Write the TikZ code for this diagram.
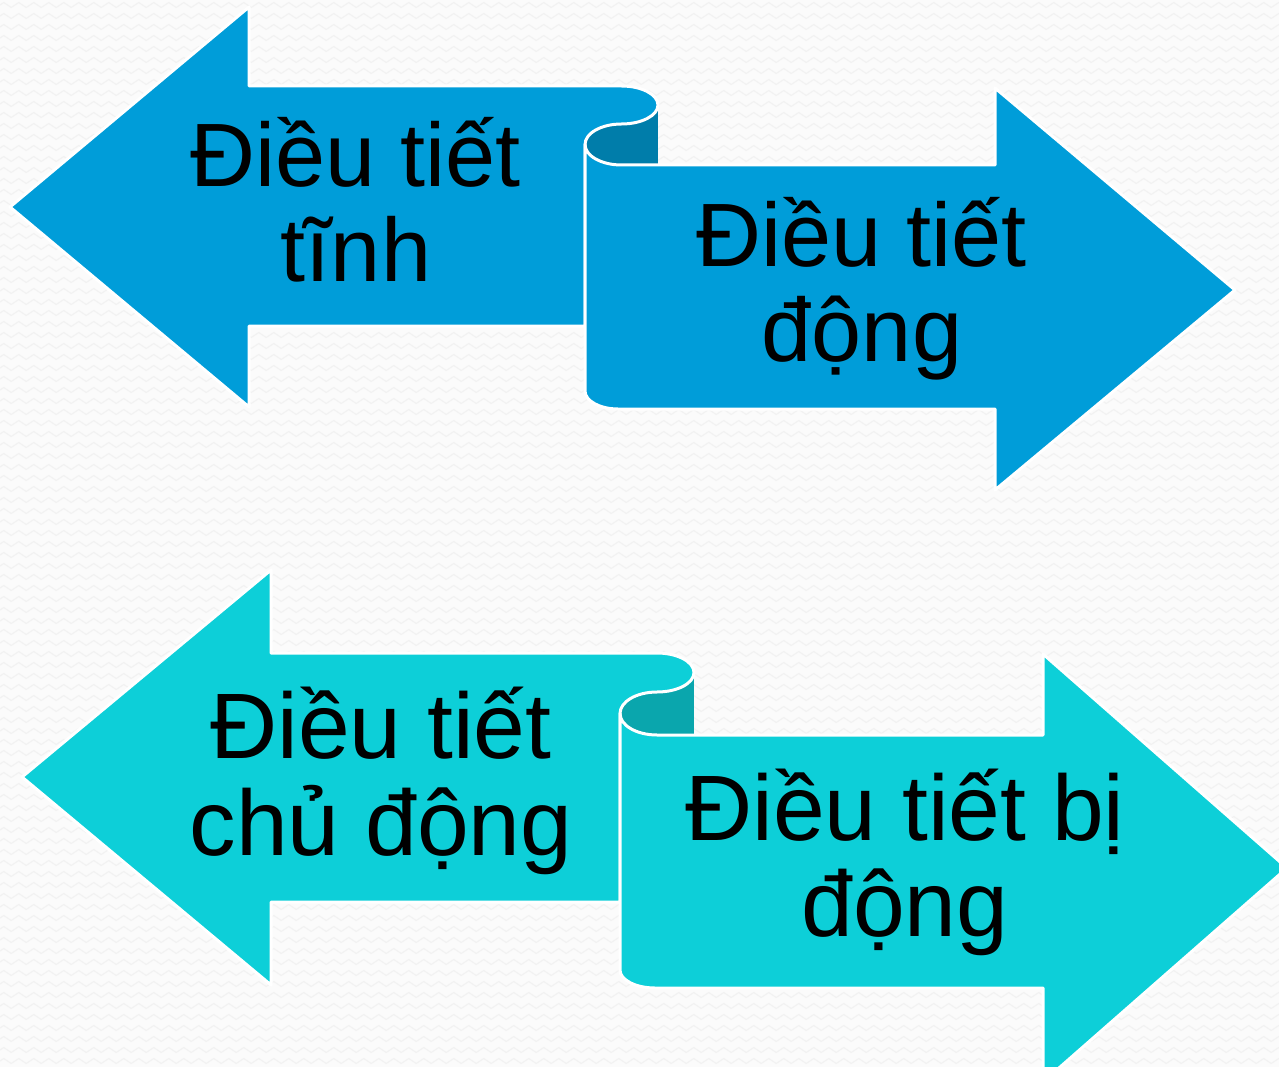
\documentclass[tikz,border=0pt]{standalone}
\usepackage{fontspec}
\setmainfont{Liberation Sans}
\usetikzlibrary{decorations.pathmorphing}
\definecolor{blueL}{RGB}{0,157,217}
\definecolor{blueD}{RGB}{0,125,170}
\definecolor{cyanL}{RGB}{13,207,216}
\definecolor{cyanD}{RGB}{10,166,173}
\definecolor{bgc}{RGB}{251,251,251}
\definecolor{zigc}{RGB}{242,242,242}
\begin{document}
\begin{tikzpicture}[x=1pt,y=-1pt,
  shapeout/.style={draw=white,line width=3pt,line join=round},
  zig/.style={draw=zigc,line width=1.2pt,decorate,decoration={zigzag,segment length=15pt,amplitude=2.5pt}},
  lblA/.style={anchor=base,text=black,inner sep=0pt,font=\fontsize{90}{95}\selectfont},
  lblB/.style={anchor=base,text=black,inner sep=0pt,font=\fontsize{93}{97}\selectfont}]
\useasboundingbox (0,0) rectangle (1279,1067);
\fill[bgc] (0,0) rectangle (1279,1067);
\begin{scope}
\clip (0,0) rectangle (1279,1067);
\foreach \r in {0,...,97} \draw[zig] (-15,{5+11*\r}) -- (1300,{5+11*\r});
\end{scope}
% ---------- top pair ----------
\fill[blueD] (585,105) rectangle (658,165);
\path[fill=blueL,shapeout] (10,207) -- (249,7) -- (249,86) -- (621.5,86)
  arc[start angle=-90,end angle=90,x radius=36.5,y radius=19]
  arc[start angle=-90,end angle=-180,x radius=36.5,y radius=20.5]
  -- (585,326) -- (249,326) -- (249,407) -- cycle;
\path[fill=blueL,shapeout] (585,144.5)
  arc[start angle=180,end angle=90,x radius=36.5,y radius=20.5]
  -- (995,165) -- (995,88) -- (1235,290) -- (995,490) -- (995,409) -- (618,409)
  arc[start angle=90,end angle=180,x radius=33,y radius=18]
  -- cycle;
\node[lblA] (t1a) at (356,187) {Điều tiết};
\node[lblA] (t1b) at (356,282) {tĩnh};
\node[lblA] (t2a) at (862,266) {Điều tiết};
\node[lblA] (t2b) at (862,361) {động};
% ---------- bottom pair ----------
\fill[cyanD] (620,672) rectangle (694,735);
\path[fill=cyanL,shapeout] (22,777) -- (271,570) -- (271,653) -- (657,653)
  arc[start angle=-90,end angle=90,x radius=37,y radius=19.5]
  arc[start angle=-90,end angle=-180,x radius=37,y radius=21.5]
  -- (620,902) -- (271,902) -- (271,985) -- cycle;
\path[fill=cyanL,shapeout] (620,713.5)
  arc[start angle=180,end angle=90,x radius=37,y radius=21.5]
  -- (1043,735) -- (1043,654) -- (1287,868) -- (1043,1082) -- (1043,988) -- (655,988)
  arc[start angle=90,end angle=180,x radius=35,y radius=18]
  -- cycle;
\node[lblB] (t3a) at (381,758) {Điều tiết};
\node[lblB] (t3b) at (381,855) {chủ động};
\node[lblB] (t4a) at (905,840) {Điều tiết bị};
\node[lblB] (t4b) at (905,936) {động};
\end{tikzpicture}
\end{document}
